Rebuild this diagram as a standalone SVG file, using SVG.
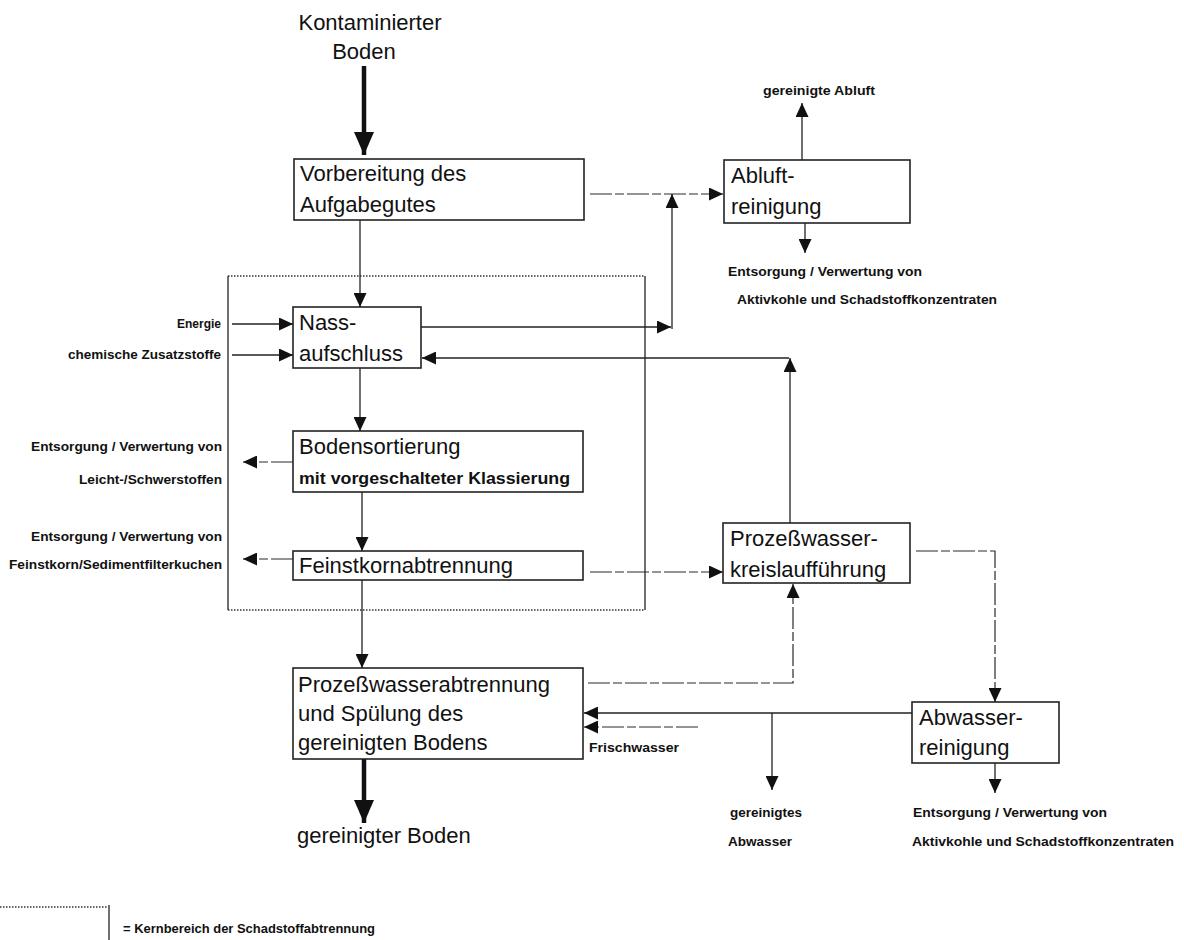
<svg xmlns="http://www.w3.org/2000/svg" width="1184" height="940" viewBox="0 0 1184 940">
<style>
  text { font-family: "Liberation Sans", Arial, sans-serif; fill: #111; }
  .big { font-size: 22px; }
  .mid { font-size: 16px; font-weight: bold; }
  .sm { font-size: 12px; font-weight: bold; }
  .box { fill: #fff; stroke: #222; stroke-width: 1.6; }
  .ln { fill: none; stroke: #222; stroke-width: 1.3; }
  .dash { fill: none; stroke: #2a2a2a; stroke-width: 1.2; stroke-dasharray: 22 3 9 3; }
  .thick { fill: none; stroke: #111; stroke-width: 4.5; }
  .dot { fill: none; stroke: #333; stroke-width: 1.4; stroke-dasharray: 1.5 1.5; }
</style>
<defs>
  <marker id="ah" markerUnits="userSpaceOnUse" markerWidth="15" markerHeight="13" refX="14" refY="6.5" orient="auto">
    <path d="M0,0 L14,6.5 L0,13 z" fill="#111"/>
  </marker>
  <marker id="ahb" markerUnits="userSpaceOnUse" markerWidth="24" markerHeight="20" refX="23" refY="10" orient="auto">
    <path d="M0,0 L23,10 L0,20 z" fill="#111"/>
  </marker>
</defs>

<rect width="1184" height="940" fill="#fff"/>

<!-- core area (dotted frame) -->
<g id="kernbereich">
  <line class="dot" x1="228" y1="276" x2="645" y2="276"/>
  <line class="dot" x1="228" y1="610" x2="645" y2="610"/>
  <line class="ln" x1="228" y1="276" x2="228" y2="610"/>
  <line class="ln" x1="645" y1="276" x2="645" y2="610"/>
</g>

<g id="connectors">
  <path class="thick" d="M364,66 V155" marker-end="url(#ahb)"/>
  <path class="ln" d="M360,220 V307" marker-end="url(#ah)"/>
  <path class="ln" d="M232,324 H293" marker-end="url(#ah)"/>
  <path class="ln" d="M232,355 H293" marker-end="url(#ah)"/>
  <path class="dash" d="M590,194 H723" marker-end="url(#ah)"/>
  <path class="ln" d="M421,327 H671" marker-end="url(#ah)"/>
  <path class="ln" d="M672,329 V194" marker-end="url(#ah)"/>
  <path class="ln" d="M802,160 V103" marker-end="url(#ah)"/>
  <path class="ln" d="M805,223 V253" marker-end="url(#ah)"/>
  <path class="ln" d="M790,523 V358" marker-end="url(#ah)"/>
  <path class="ln" d="M789,358 H422" marker-end="url(#ah)"/>
  <path class="ln" d="M360,368 V431" marker-end="url(#ah)"/>
  <path class="dash" d="M293,462 H243" marker-end="url(#ah)"/>
  <path class="ln" d="M362,492 V551" marker-end="url(#ah)"/>
  <path class="dash" d="M293,559 H243" marker-end="url(#ah)"/>
  <path class="dash" d="M590,572 H723" marker-end="url(#ah)"/>
  <path class="ln" d="M362,580 V668" marker-end="url(#ah)"/>
  <path class="dash" d="M588,683 H793 V584" marker-end="url(#ah)"/>
  <path class="dash" d="M916,551 H995 V702" marker-end="url(#ah)"/>
  <path class="ln" d="M912,713 H584" marker-end="url(#ah)"/>
  <path class="dash" d="M698,727 H584" marker-end="url(#ah)"/>
  <path class="ln" d="M772,713 V790" marker-end="url(#ah)"/>
  <path class="ln" d="M995,763 V793" marker-end="url(#ah)"/>
  <path class="thick" d="M364,759 V823" marker-end="url(#ahb)"/>
</g>

<g id="input">
  <text class="big" x="370" y="30" text-anchor="middle">Kontaminierter</text>
  <text class="big" x="364" y="59" text-anchor="middle">Boden</text>
</g>

<g id="vorbereitung">
  <rect class="box" x="294" y="159" width="290" height="61"/>
  <text class="big" x="300" y="181">Vorbereitung des</text>
  <text class="big" x="300" y="212">Aufgabegutes</text>
</g>

<g id="abluft">
  <rect class="box" x="724" y="160" width="186" height="63"/>
  <text class="big" x="731" y="183">Abluft-</text>
  <text class="big" x="731" y="214">reinigung</text>
</g>
<g id="abluft-out">
  <text class="sm" x="819" y="95" text-anchor="middle" textLength="112" lengthAdjust="spacingAndGlyphs">gereinigte Abluft</text>
  <text class="sm" x="728" y="276" textLength="194" lengthAdjust="spacingAndGlyphs">Entsorgung / Verwertung von</text>
  <text class="sm" x="737" y="304" textLength="260" lengthAdjust="spacingAndGlyphs">Aktivkohle und Schadstoffkonzentraten</text>
</g>

<g id="nassaufschluss">
  <rect class="box" x="293" y="307" width="128" height="61"/>
  <text class="big" x="299" y="330">Nass-</text>
  <text class="big" x="299" y="361">aufschluss</text>
</g>
<g id="inputs-left">
  <text class="sm" x="221" y="328" text-anchor="end" textLength="44" lengthAdjust="spacingAndGlyphs">Energie</text>
  <text class="sm" x="221" y="359" text-anchor="end" textLength="153" lengthAdjust="spacingAndGlyphs">chemische Zusatzstoffe</text>
</g>

<g id="bodensortierung">
  <rect class="box" x="293" y="431" width="290" height="61"/>
  <text class="big" x="299" y="454">Bodensortierung</text>
  <text class="mid" x="299" y="484" textLength="271" lengthAdjust="spacingAndGlyphs">mit vorgeschalteter Klassierung</text>
</g>
<g id="out-leicht">
  <text class="sm" x="222" y="451" text-anchor="end" textLength="191" lengthAdjust="spacingAndGlyphs">Entsorgung / Verwertung von</text>
  <text class="sm" x="222" y="484" text-anchor="end" textLength="143" lengthAdjust="spacingAndGlyphs">Leicht-/Schwerstoffen</text>
</g>

<g id="feinstkorn">
  <rect class="box" x="293" y="551" width="290" height="29"/>
  <text class="big" x="299" y="573">Feinstkornabtrennung</text>
</g>
<g id="out-feinstkorn">
  <text class="sm" x="222" y="541" text-anchor="end" textLength="191" lengthAdjust="spacingAndGlyphs">Entsorgung / Verwertung von</text>
  <text class="sm" x="222" y="569" text-anchor="end" textLength="213" lengthAdjust="spacingAndGlyphs">Feinstkorn/Sedimentfilterkuchen</text>
</g>

<g id="kreislauf">
  <rect class="box" x="723" y="523" width="187" height="60"/>
  <text class="big" x="730" y="546">Prozeßwasser-</text>
  <text class="big" x="730" y="577">kreislaufführung</text>
</g>

<g id="prozesswasserabtrennung">
  <rect class="box" x="293" y="668" width="290" height="91"/>
  <text class="big" x="298" y="692">Prozeßwasserabtrennung</text>
  <text class="big" x="298" y="721">und Spülung des</text>
  <text class="big" x="298" y="750">gereinigten Bodens</text>
</g>
<g id="frischwasser">
  <text class="sm" x="589" y="752" textLength="90" lengthAdjust="spacingAndGlyphs">Frischwasser</text>
</g>

<g id="abwasser">
  <rect class="box" x="912" y="702" width="147" height="61"/>
  <text class="big" x="919" y="725">Abwasser-</text>
  <text class="big" x="919" y="755">reinigung</text>
</g>
<g id="abwasser-out">
  <text class="sm" x="730" y="817" textLength="72" lengthAdjust="spacingAndGlyphs">gereinigtes</text>
  <text class="sm" x="728" y="846" textLength="64" lengthAdjust="spacingAndGlyphs">Abwasser</text>
  <text class="sm" x="913" y="817" textLength="194" lengthAdjust="spacingAndGlyphs">Entsorgung / Verwertung von</text>
  <text class="sm" x="912" y="846" textLength="262" lengthAdjust="spacingAndGlyphs">Aktivkohle und Schadstoffkonzentraten</text>
</g>

<g id="output">
  <text class="big" x="297" y="843">gereinigter Boden</text>
</g>

<g id="legende">
  <line class="dot" x1="0" y1="907" x2="107" y2="907"/>
  <line class="ln" x1="109" y1="905" x2="109" y2="940"/>
  <text class="sm" x="123" y="933" textLength="252" lengthAdjust="spacingAndGlyphs">= Kernbereich der Schadstoffabtrennung</text>
</g>
</svg>
